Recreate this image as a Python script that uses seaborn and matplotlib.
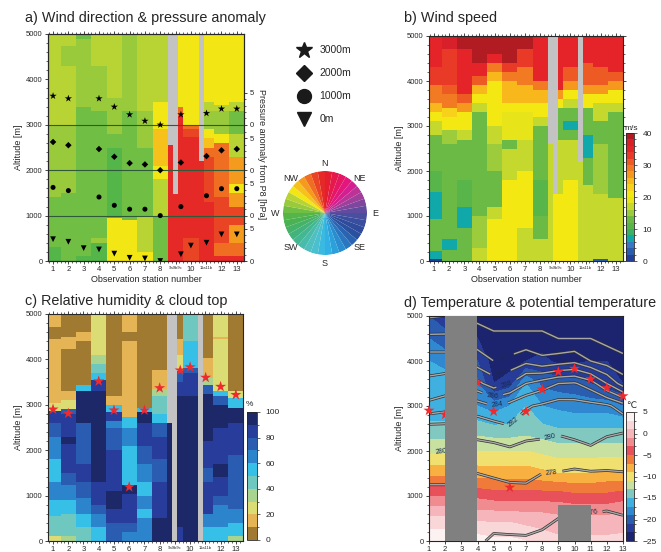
import numpy as np
import matplotlib
matplotlib.use('Agg')
import matplotlib.pyplot as plt
import seaborn as sns
from matplotlib.colors import ListedColormap, BoundaryNorm, LinearSegmentedColormap
from matplotlib.patches import Rectangle
from matplotlib.lines import Line2D
import matplotlib.patheffects as pe
from matplotlib.ticker import MultipleLocator

# ---------------------------------------------------------------- data
columns = ['1', '2', '3', '4', '5', '6', '7', '8', '9a', '9b', '9c', '10', '11a', '11b', '12', '13']
station_labels = ['1', '2', '3', '4', '5', '6', '7', '8', '9a9b9c', '10', '11a11b', '12', '13']

# wind direction [deg] per column: (top altitude [m], value); None = no data
wind_dir_profiles = [
    [(300, 268), (1400, 270), (2700, 288), (3000, 286), (3300, 297), (5000, 290)],
    [(700, 270), (1500, 272), (2800, 280), (3000, 284), (4300, 290), (4750, 280), (5000, 290)],
    [(100, 268), (1400, 272), (1800, 276), (3400, 274), (4900, 282), (5000, 278)],
    [(400, 268), (500, 280), (3300, 272), (4300, 281), (5000, 291)],
    [(950, 304), (2500, 268), (2800, 273), (3600, 281), (5000, 291)],
    [(150, 306), (900, 301), (2800, 270), (3300, 279), (5000, 289)],
    [(200, 303), (1000, 295), (2500, 272), (3300, 285), (5000, 292)],
    [(60, 270), (1000, 276), (1800, 292), (2100, 305), (2900, 318), (3500, 305), (4500, 295), (5000, 291)],
    [(2570, 355), (5000, None)],
    [(1480, 355), (5000, None)],
    [(3200, 355), (3400, 332), (3600, 305), (5000, 308)],
    [(500, 347), (2750, 355), (2900, 345), (3000, 338), (5000, 306)],
    [(2200, 354), (5000, None)],
    [(1300, 352), (2300, 348), (2500, 332), (2700, 318), (2900, 306), (3300, 288), (3500, 294), (5000, 302)],
    [(100, 355), (400, 335), (600, 345), (1400, 340), (2600, 334), (2800, 308), (3300, 286), (3450, 294), (5000, 306)],
    [(100, 355), (400, 332), (800, 326), (1200, 342), (1500, 322), (1700, 308), (2300, 325), (2800, 294),
     (3300, 276), (3500, 292), (5000, 306)],
]

# wind speed [m/s]
wind_speed_profiles = [
    [(50, 1), (220, 7), (950, 12), (1550, 7), (2000, 11), (2800, 12), (3100, 16), (3300, 20), (3500, 24),
     (3900, 28), (4300, 33), (5000, 35)],
    [(250, 12), (480, 7), (1400, 12), (2600, 13), (2900, 15), (3200, 20), (3400, 23), (3700, 28), (3900, 30),
     (4700, 33), (5000, 36)],
    [(750, 12), (1200, 7), (1800, 11), (2700, 12), (2900, 16), (3300, 20), (3500, 27), (3700, 31), (4700, 34),
     (5000, 39)],
    [(300, 16), (1000, 14), (3300, 12), (3500, 16), (3700, 20), (3900, 25), (4100, 30), (4400, 34), (5000, 39)],
    [(950, 20), (1200, 17), (2000, 13), (2600, 14), (3000, 16), (3800, 20), (4000, 21), (4200, 25), (4400, 28),
     (4600, 34), (5000, 39)],
    [(1800, 20), (2500, 17), (2700, 13), (3300, 18), (3500, 21), (4000, 25), (4200, 28), (4400, 33), (5000, 39)],
    [(750, 17), (2000, 20), (2700, 17), (3300, 19), (3500, 21), (3900, 25), (4300, 29), (4700, 33), (5000, 39)],
    [(500, 16), (1000, 13), (1800, 11), (2400, 12), (3000, 13), (3200, 16), (3500, 20), (3800, 24), (4000, 28),
     (5000, 34)],
    [(2600, 16), (5000, None)],
    [(1500, 20), (5000, None)],
    [(1500, 20), (2700, 17), (3400, 13), (3600, 20), (3800, 27), (5000, 34)],
    [(1800, 20), (2700, 16), (2900, 12), (3100, 7), (3400, 12), (3600, 17), (3800, 21), (4000, 27), (4300, 31),
     (5000, 34)],
    [(2200, 17), (5000, None)],
    [(1700, 17), (2300, 13), (2800, 7), (3400, 12), (3700, 20), (3900, 27), (4400, 31), (5000, 35)],
    [(50, 3), (1500, 16), (2600, 14), (3100, 12), (3500, 17), (3700, 21), (3900, 27), (4300, 31), (5000, 34)],
    [(1400, 16), (2600, 13), (3300, 12), (3500, 17), (3800, 21), (4000, 27), (4200, 31), (5000, 34)],
]

# relative humidity [%]
rh_profiles = [
    [(100, 25), (540, 45), (900, 55), (1300, 65), (1800, 55), (2300, 65), (2600, 75), (2870, 85), (3050, 25),
     (4470, 15), (4730, 5), (5000, 15)],
    [(100, 30), (600, 45), (900, 55), (1250, 65), (1500, 75), (2150, 85), (2300, 95), (2800, 85), (2900, 75),
     (3100, 25), (3300, 15), (3700, 5), (4250, 5), (4500, 15), (5000, 5)],
    [(300, 45), (600, 55), (950, 65), (1300, 75), (1700, 85), (2600, 75), (3300, 95), (3450, 55), (4400, 5),
     (4600, 15), (5000, 5)],
    [(300, 55), (600, 65), (800, 75), (1300, 85), (3300, 95), (3550, 85), (3700, 55), (3900, 45), (4100, 35),
     (5000, 25)],
    [(400, 75), (700, 85), (1100, 95), (2000, 85), (2500, 75), (2650, 65), (2850, 85), (3000, 55), (3200, 15),
     (5000, 5)],
    [(200, 65), (400, 75), (1050, 85), (1250, 95), (2100, 55), (2500, 65), (2750, 55), (4400, 15), (4600, 5),
     (5000, 15)],
    [(500, 65), (700, 55), (1000, 65), (1300, 55), (1700, 65), (2100, 75), (2600, 85), (2850, 95), (2950, 55),
     (5000, 5)],
    [(500, 95), (1300, 85), (1800, 75), (2300, 85), (2600, 75), (2800, 55), (3200, 45), (3350, 35), (3770, 15),
     (5000, 5)],
    [(2600, 95), (5000, None)],
    [(5000, None)],
    [(300, 85), (3200, 95), (3500, 85), (3750, 75), (4100, 25), (4470, 15), (5000, 5)],
    [(3200, 95), (3700, 85), (3800, 75), (4400, 55), (5000, 45)],
    [(5000, None)],
    [(300, 55), (600, 65), (1300, 85), (1600, 75), (2200, 85), (3250, 95), (3450, 75), (3600, 35), (4050, 15),
     (5000, 5)],
    [(300, 55), (800, 65), (1000, 75), (1400, 85), (1700, 95), (2500, 85), (3000, 95), (3200, 75), (3300, 55),
     (4450, 25), (4500, 15), (5000, 25)],
    [(100, 35), (400, 55), (700, 65), (1900, 75), (2600, 85), (2950, 95), (3150, 55), (3300, 25), (5000, 5)],
]

# pressure anomaly from P8 [hPa] at four levels (stations 1..13)
p_anom_3000 = [4.5, 4.1, np.nan, 4.1, 2.8, 1.6, 0.6, 0.0, 1.6, np.nan, 1.8, 2.5, 2.5]
p_anom_2000 = [4.4, 3.9, np.nan, 3.3, 2.1, 1.1, 0.9, 0.0, 1.2, np.nan, 2.2, 3.1, 3.3]
p_anom_1000 = [4.4, 3.9, np.nan, 2.9, 1.6, 1.0, 1.0, 0.0, 1.4, np.nan, 3.1, 4.2, 4.2]
p_anom_0 = [3.4, 3.0, 2.0, 1.8, 1.15, 0.5, 0.4, 0.0, 1.05, 2.4, 2.85, 4.15, 4.15]
marker_x = [1, 2, 3, 4, 5, 6, 7, 8, 9.35, 10, 11.02, 12, 13]

# cloud top altitude [m] (stations 1..13)
cloud_top = [2900, 2810, np.nan, 3520, 2880, 1190, 2880, 3370, 3760, 3830, 3600, 3400, 3220]

# temperature [degC] and potential temperature [K] at stations 1..13
grid_alt = [0, 500, 1000, 1500, 2000, 2500, 3000, 3500, 4000, 4500, 5000]
temperature = [
    [4.5, 4.5, 4, 4, 3.5, 3.5, 3, 2, 1.5, 1.5, 1.5, 1.5, 1.5],
    [1.5, 1.5, 1, 0.5, 0.5, 0.5, 0, 0, -0.5, -0.5, -0.5, -0.5, 0],
    [-3, -3, -3, -3.5, -4, -4, -4, -4, -4, -4.5, -4.5, -4.5, -4],
    [-7.5, -7.5, -7.5, -8, -8, -8, -8, -8.5, -9, -9, -9, -8.5, -8.5],
    [-11.5, -11.5, -11, -11, -11, -11, -11, -11.5, -12, -12, -12, -12, -12],
    [-14.5, -14.5, -14, -14, -14.5, -14.5, -14, -14.5, -15, -15, -15, -15, -15],
    [-16, -16, -16, -17, -18, -17, -15, -17, -17.5, -18, -18, -18, -19],
    [-15, -15.5, -16, -19, -23, -22, -17, -19.5, -20, -20, -21, -22, -23],
    [-17, -18, -19, -21, -24, -24, -23, -22.5, -23.5, -23.5, -23, -23, -24],
    [-19, -20, -21, -23, -24.5, -24.5, -24.5, -24, -24.5, -24.5, -24, -24, -24.5],
    [-21, -22.5, -23, -24.5, -25.5, -25.5, -25.5, -25, -25.5, -25.5, -25.5, -25.5, -25.5],
]
pot_temperature = [
    [276.8, 276.8, 276.6, 276.2, 275.8, 275.8, 275.8, 275.6, 275.4, 275.4, 275.4, 275.2, 275.6],
    [277.0, 277.0, 276.8, 276.6, 276.4, 276.5, 276.6, 276.4, 276.0, 275.9, 275.8, 275.8, 275.9],
    [277.4, 277.4, 277.3, 277.2, 277.2, 277.4, 277.6, 277.4, 277.0, 276.8, 276.6, 276.4, 276.6],
    [278.6, 278.6, 278.3, 278.0, 278.2, 278.4, 278.3, 278.0, 277.9, 277.6, 277.8, 277.8, 277.9],
    [280.1, 280.0, 279.6, 279.2, 279.4, 279.6, 279.2, 279.3, 279.3, 279.6, 279.8, 279.3, 279.2],
    [281.2, 281.2, 280.8, 280.8, 281.0, 281.8, 281.0, 280.6, 280.3, 280.4, 280.6, 280.4, 280.2],
    [285.5, 285.0, 283.5, 283.0, 284.0, 283.2, 282.2, 281.7, 281.2, 281.3, 281.4, 281.6, 283.0],
    [287.5, 287.2, 287.0, 287.5, 289.0, 288.0, 286.0, 285.0, 284.0, 283.8, 285.0, 288.0, 291.0],
    [289.0, 289.0, 289.5, 291.0, 292.0, 291.5, 290.5, 291.5, 291.0, 290.5, 292.0, 293.0, 293.5],
    [291.5, 291.5, 292.0, 293.0, 293.5, 293.5, 293.5, 293.5, 294.0, 294.0, 294.0, 294.5, 295.0],
    [294.2, 294.0, 294.0, 294.5, 295.0, 295.0, 295.0, 295.0, 295.5, 295.5, 295.5, 296.0, 296.0],
]

# ---------------------------------------------------------------- layout / style
col_edges = [0.5, 1.5, 2.5, 3.5, 4.5, 5.5, 6.5, 7.5, 8.5, 8.83, 9.17, 9.5, 10.5, 10.83, 11.5, 12.5, 13.5]
HPA_TO_M = 141.2
W, H = 661, 552

sns.set_theme(style='ticks')
plt.rcParams['font.family'] = ['Liberation Sans', 'DejaVu Sans']
plt.rcParams['axes.linewidth'] = 0.8
plt.rcParams['xtick.major.size'] = 2.5
plt.rcParams['ytick.major.size'] = 2.5
plt.rcParams['xtick.minor.size'] = 1.5
plt.rcParams['ytick.minor.size'] = 1.5
plt.rcParams['xtick.major.width'] = 0.6
plt.rcParams['ytick.major.width'] = 0.6
plt.rcParams['xtick.minor.width'] = 0.5
plt.rcParams['ytick.minor.width'] = 0.5

GRAY = '#c3c3c3'


def rect(l, t, r, b):
    return [l / W, 1 - b / H, (r - l) / W, (b - t) / H]


def build_grid(profiles, z_centers):
    g = np.full((len(z_centers), len(profiles)), np.nan)
    for j, prof in enumerate(profiles):
        lower = 0
        for top, val in prof:
            m = (z_centers >= lower) & (z_centers < top)
            g[m, j] = np.nan if val is None else val
            lower = top
    return g


z_edges = np.arange(0, 5001, 20)
z_cent = 0.5 * (z_edges[:-1] + z_edges[1:])

# colormaps
wd_anchor = [(0, '#e41e26'), (20, '#e6185a'), (40, '#e0158c'), (60, '#b03c9a'), (80, '#6c4a9e'),
             (100, '#3e4fa0'), (120, '#2a4a9a'), (140, '#2a6ab8'), (160, '#2a98d6'), (180, '#32b8e8'),
             (200, '#52c2c8'), (220, '#44b8a0'), (240, '#42b272'), (260, '#4cb24a'), (270, '#5ab848'),
             (285, '#98ca3c'), (295, '#b8d434'), (305, '#f2e614'), (315, '#f6c61a'), (325, '#f5a01c'),
             (336, '#ef6e22'), (347, '#e84025'), (360, '#e41e26')]
wd_lin = LinearSegmentedColormap.from_list('wd', [(a / 360, c) for a, c in wd_anchor])
wd_cmap = ListedColormap([wd_lin((i + 0.5) / 36) for i in range(36)])
wd_cmap.set_bad(GRAY)
wd_norm = BoundaryNorm(np.arange(0, 361, 10), 36)

ws_colors = ['#22409a', '#2a5cb0', '#3a78c4', '#10a8a8', '#3cb064', '#58b54a', '#6cba46', '#9ccb3c',
             '#c4d82e', '#e8e41a', '#f4e812', '#f8d21a', '#f8b81c', '#f6981e', '#f27a22', '#ee5a24',
             '#e83a26', '#e42428', '#d8202a', '#b01c22']
ws_cmap = ListedColormap(ws_colors)
ws_cmap.set_bad(GRAY)
ws_norm = BoundaryNorm(np.arange(0, 41, 2), 20)

rh_colors = ['#a07a30', '#e4b455', '#dcdc74', '#a8d490', '#6ec8c0', '#36c0e8', '#2c84cc', '#2a5cb2',
             '#283c9c', '#1c2868']
rh_cmap = ListedColormap(rh_colors)
rh_cmap.set_bad(GRAY)
rh_norm = BoundaryNorm(np.arange(0, 101, 10), 10)

t_colors = ['#1c2470', '#263c98', '#2a5cb0', '#3088d0', '#40b0e0', '#80c8c0', '#c8e0a0', '#f0e070',
            '#f8b040', '#f07a3a', '#e8505a', '#f08c90', '#f5b5ba', '#f9d6d8', '#fdf2f2']
t_cmap = ListedColormap(t_colors)
t_levels = np.arange(-25, 5.1, 2)
t_norm = BoundaryNorm(t_levels, 15)

fig = plt.figure(figsize=(W / 100, H / 100), dpi=100)

TICK_FS = 5.5
LAB_FS = 6.5
TITLE_FS = 10.4


def style_station_axis(ax, label_x=True):
    ax.set_xlim(0.67, 13.47)
    ax.set_ylim(0, 5000)
    ax.set_xticks(np.arange(1, 14))
    ax.set_xticklabels(station_labels)
    for i, t in enumerate(ax.get_xticklabels()):
        t.set_fontsize(3 if station_labels[i] in ('9a9b9c', '11a11b') else TICK_FS)
    ax.set_yticks(np.arange(0, 5001, 1000))
    ax.tick_params(axis='y', labelsize=TICK_FS, pad=1.5)
    ax.tick_params(axis='x', pad=0.8)
    ax.xaxis.set_minor_locator(MultipleLocator(0.25))
    ax.yaxis.set_minor_locator(MultipleLocator(200))
    ax.tick_params(which='both', top=True)
    ax.set_ylabel('Altitude [m]', fontsize=LAB_FS, labelpad=2)
    if label_x:
        ax.set_xlabel('Observation station number', fontsize=LAB_FS, labelpad=2)


# ---------------------------------------------------------------- panel a
axa = fig.add_axes(rect(48, 34, 244, 261))
axa.set_facecolor(GRAY)
axa.pcolormesh(col_edges, z_edges, build_grid(wind_dir_profiles, z_cent), cmap=wd_cmap, norm=wd_norm)
for base in (1000, 2000, 3000):
    axa.axhline(base, color='#2f5a3a', lw=0.8, zorder=3)
ms = dict(color='black', edgecolor='none', ax=axa, zorder=5, legend=False)
sns.scatterplot(x=marker_x, y=[3000 + p * HPA_TO_M for p in p_anom_3000], marker='*', s=30, **ms)
sns.scatterplot(x=marker_x, y=[2000 + p * HPA_TO_M for p in p_anom_2000], marker='D', s=11, **ms)
sns.scatterplot(x=marker_x, y=[1000 + p * HPA_TO_M for p in p_anom_1000], marker='o', s=13, **ms)
sns.scatterplot(x=marker_x, y=[0 + p * HPA_TO_M for p in p_anom_0], marker='v', s=17, **ms)
style_station_axis(axa)

ax2 = axa.twinx()
ax2.set_ylim(0, 5000)
maj = []
lab = []
mino = []
for base in (0, 1000, 2000, 3000):
    maj += [base, base + 5 * HPA_TO_M]
    lab += ['0', '5']
    ks = [1, 2, 3, 4, 6] if base < 3000 else [1, 2, 3, 4]
    mino += [base + k * HPA_TO_M for k in ks]
ax2.set_yticks(maj)
ax2.set_yticklabels(lab)
ax2.set_yticks(mino, minor=True)
ax2.tick_params(axis='y', labelsize=TICK_FS, pad=1.5)
ax2.set_ylabel('Pressure anomaly from P8 [hPa]', fontsize=LAB_FS, rotation=270, va='center')
ax2.yaxis.set_label_coords(1.088, 0.47)

fig.text(25 / W, 1 - 18 / H, 'a) Wind direction & pressure anomaly', fontsize=TITLE_FS, va='center')

# legend
handles = [Line2D([], [], ls='', marker='*', color='k', ms=12),
           Line2D([], [], ls='', marker='D', color='k', ms=8.5),
           Line2D([], [], ls='', marker='o', color='k', ms=10),
           Line2D([], [], ls='', marker='v', color='k', ms=10)]
fig.legend(handles, ['3000m', '2000m', '1000m', '0m'], loc='upper left',
           bbox_to_anchor=(288 / W, 1 - 40 / H), frameon=False, fontsize=7.5,
           labelspacing=1.25, handletextpad=0.5, borderpad=0)

# colour wheel
axw = fig.add_axes(rect(283, 171, 367, 255), projection='polar')
theta = np.deg2rad(np.arange(5, 360, 10))
axw.bar(theta, np.ones(36), width=np.deg2rad(10), bottom=0,
        color=[wd_cmap(wd_norm(a)) for a in np.arange(5, 360, 10)], edgecolor='none', linewidth=0)
axw.set_theta_zero_location('N')
axw.set_theta_direction(-1)
axw.set_ylim(0, 1)
axw.axis('off')
cx, cy, rr = 325, 213, 50
for name, ang in [('N', 0), ('NE', 45), ('E', 90), ('SE', 135), ('S', 180), ('SW', 225), ('W', 270), ('NW', 315)]:
    r = rr if len(name) == 1 else rr - 1
    px = cx + r * np.sin(np.deg2rad(ang))
    py = cy - r * np.cos(np.deg2rad(ang))
    fig.text(px / W, 1 - py / H, name, fontsize=6.5, ha='center', va='center')

# ---------------------------------------------------------------- panel b
axb = fig.add_axes(rect(429, 36, 623, 261))
axb.set_facecolor(GRAY)
axb.pcolormesh(col_edges, z_edges, build_grid(wind_speed_profiles, z_cent), cmap=ws_cmap, norm=ws_norm)
style_station_axis(axb)
axb.tick_params(which='both', right=True)
fig.text(404 / W, 1 - 18 / H, 'b) Wind speed', fontsize=TITLE_FS, va='center')
caxb = fig.add_axes(rect(626, 133, 634, 261))
cb = fig.colorbar(plt.cm.ScalarMappable(norm=ws_norm, cmap=ws_cmap), cax=caxb, ticks=[0, 10, 20, 30, 40])
cb.ax.tick_params(labelsize=TICK_FS + 0.5, length=2, width=0.5, pad=4)
cb.outline.set_linewidth(0.6)
fig.text(624 / W, 1 - 128 / H, 'm/s', fontsize=6, ha='left', va='center')

# ---------------------------------------------------------------- panel c
axc = fig.add_axes(rect(48, 314, 243, 541))
axc.set_facecolor(GRAY)
axc.pcolormesh(col_edges, z_edges, build_grid(rh_profiles, z_cent), cmap=rh_cmap, norm=rh_norm)
sns.scatterplot(x=marker_x, y=cloud_top, marker='*', s=70, color='#ee2a2e', edgecolor='none',
                ax=axc, zorder=5, legend=False)
style_station_axis(axc, label_x=False)
fig.text(25 / W, 1 - 301 / H, 'c) Relative humidity & cloud top', fontsize=TITLE_FS, va='center')
caxc = fig.add_axes(rect(247, 412, 257, 540))
cb = fig.colorbar(plt.cm.ScalarMappable(norm=rh_norm, cmap=rh_cmap), cax=caxc, ticks=np.arange(0, 101, 20))
cb.ax.tick_params(labelsize=TICK_FS + 0.5, length=2, width=0.5, pad=4)
cb.outline.set_linewidth(0.6)
fig.text(246 / W, 1 - 405 / H, '%', fontsize=6, ha='left', va='center')

# ---------------------------------------------------------------- panel d
axd = fig.add_axes(rect(429, 316, 623, 541))
st = np.arange(1, 14)
T = np.array(temperature)
TH = np.array(pot_temperature)
axd.contourf(st, grid_alt, T, levels=t_levels, cmap=t_cmap, norm=t_norm, extend='both')
cs = axd.contour(st, grid_alt, TH, levels=np.arange(276, 297, 2), colors='#a8a8a8', linewidths=1.0)
cs.set_path_effects([pe.Stroke(linewidth=2.0, foreground='#303030'), pe.Normal()])
label_spots = [(5.5, 4185), (5.3, 3840), (5.8, 3500), (5.0, 3280), (5.2, 3060), (6.0, 2725),
               (8.6, 2170), (1.7, 2100), (8.6, 1467), (11.0, 850)]
axd.clabel(cs, fmt='%d', fontsize=5, colors='#1a2a50', inline=True, manual=label_spots)
sns.scatterplot(x=st, y=cloud_top, marker='*', s=70, color='#ee2a2e', edgecolor='none',
                ax=axd, zorder=5, legend=False, clip_on=False)
axd.add_patch(Rectangle((2, 0), 2, 5000, color='#808080', zorder=6, lw=0))
axd.add_patch(Rectangle((9, 0), 2, 800, color='#808080', zorder=6, lw=0))
axd.set_xlim(1, 13)
axd.set_ylim(0, 5000)
axd.set_xticks(st)
axd.set_yticks(np.arange(0, 5001, 1000))
axd.yaxis.set_minor_locator(MultipleLocator(200))
axd.tick_params(labelsize=TICK_FS, pad=1.5)
axd.tick_params(axis='x', pad=0.8)
axd.set_ylabel('Altitude [m]', fontsize=LAB_FS, labelpad=2)
fig.text(404 / W, 1 - 303 / H, 'd) Temperature & potential temperature', fontsize=TITLE_FS, va='center')
caxd = fig.add_axes(rect(626, 412, 634, 541))
cb = fig.colorbar(plt.cm.ScalarMappable(norm=t_norm, cmap=t_cmap), cax=caxd, ticks=np.arange(-25, 6, 5))
cb.ax.tick_params(labelsize=TICK_FS + 0.5, length=2, width=0.5, pad=4)
cb.outline.set_linewidth(0.6)
fig.text(626 / W, 1 - 405 / H, '\u2103', fontsize=6.5, ha='left', va='center')

fig.savefig('out.png', dpi=100)
